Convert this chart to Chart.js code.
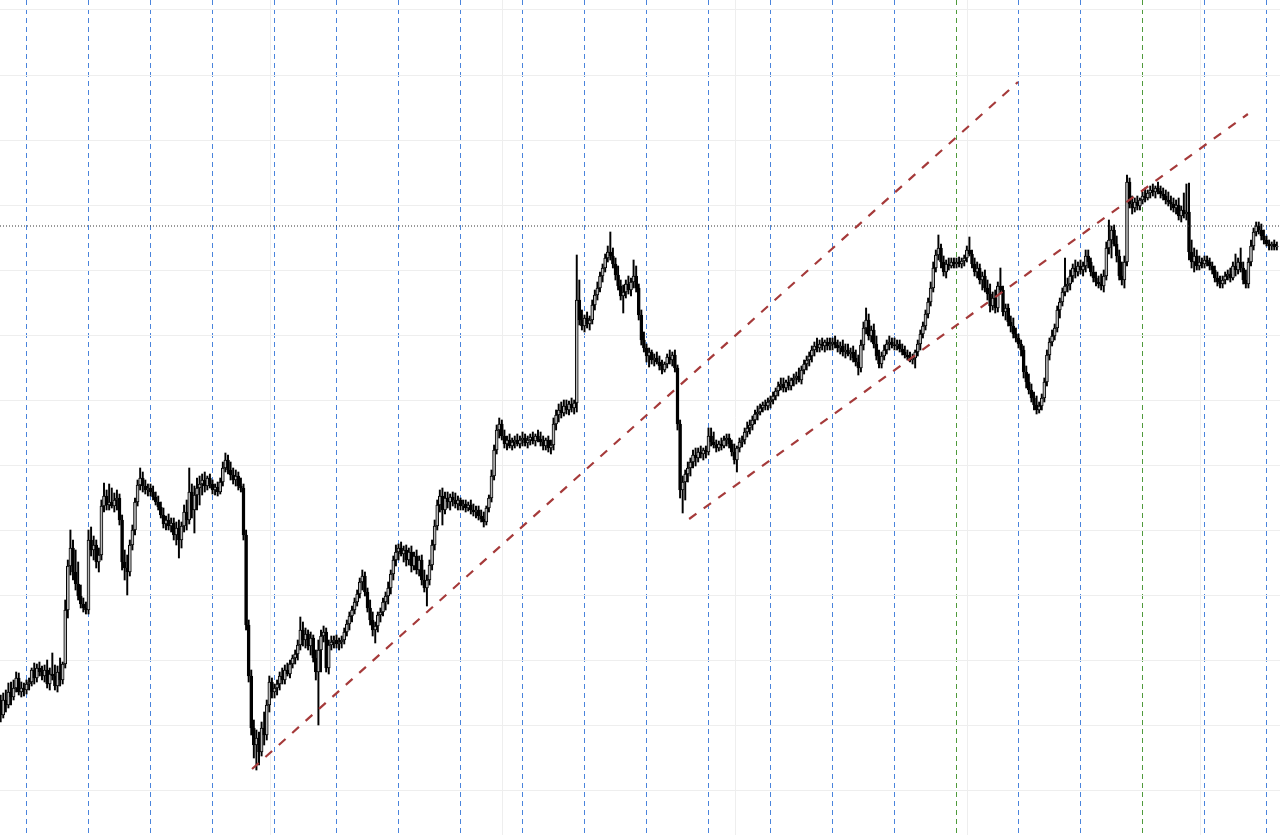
<!DOCTYPE html>
<html>
<head>
<meta charset="utf-8">
<script src="https://cdn.jsdelivr.net/npm/chart.js@4/dist/chart.umd.min.js"></script>
<style>
html, body { margin: 0; padding: 0; background: #ffffff; }
canvas { display: block; }
</style>
</head>
<body>
<canvas id="priceCanvas" width="1280" height="835"></canvas>
<script>
/* OHLC values per bar, one session (24 bars) per line */
var opens = [
    300,285,300,295,308,303,312,322,308,312,
    310,316,318,330,322,332,328,324,330,316,326,324,314,328,320,336,390,434,452,428,416,404,396,392,
    390,460,450,455,438,445,494,504,495,498,494,500,502,480,438,432,428,455,470,498,515,522,514,510,
    512,508,503,498,493,485,476,480,474,477,465,472,460,474,488,480,508,490,505,512,516,520,514,522,
    516,510,513,508,518,532,540,530,525,520,524,514,512,465,375,324,272,255,262,248,272,265,295,318,
    308,312,316,324,320,330,326,336,342,346,355,370,360,366,354,362,342,328,350,364,368,332,355,358,
    360,356,358,360,368,376,384,390,398,406,418,424,408,392,380,370,374,385,388,398,404,412,426,440,
    448,452,446,450,440,448,434,444,430,440,420,412,420,435,455,474,495,504,490,502,498,503,500,496,
    500,494,496,492,495,490,488,490,484,481,478,492,502,524,550,570,576,564,556,560,554,558,560,556,
    560,562,557,560,563,559,564,561,558,554,560,552,555,576,585,590,587,594,590,596,592,597,700,680,
    674,682,676,680,695,705,712,724,732,742,748,744,736,725,714,704,708,716,710,718,724,712,685,660,
    652,644,648,640,642,638,634,630,636,643,640,645,632,576,510,518,526,532,538,545,542,548,546,550,
    548,564,558,555,552,556,554,560,562,556,548,540,552,558,560,568,572,575,580,586,588,592,595,594,
    598,600,604,609,614,616,612,618,614,620,622,624,620,630,636,640,644,650,654,652,656,654,658,654,
    656,658,655,652,654,648,650,646,648,642,638,632,655,672,680,664,670,656,644,636,644,650,656,658,
    655,654,656,651,648,645,643,640,642,648,656,666,674,686,698,712,732,745,752,738,728,736,734,738,
    736,738,736,739,742,750,746,736,728,732,720,724,712,706,694,702,692,714,710,688,692,678,674,666,
    662,656,650,628,618,610,602,595,590,594,602,618,645,658,664,672,690,698,708,714,716,724,732,728,
    734,730,734,744,738,728,722,718,716,714,724,752,760,770,756,744,724,720,738,818,796,792,798,794,
    800,804,802,807,810,808,812,809,806,804,800,798,796,792,795,784,790,786,788,748,738,744,734,738,
    736,740,738,734,730,722,718,716,720,724,726,722,734,730,738,732,720,716,738,754,768,774,770,764,
    760,756,754,756,753
];
var highs = [
    305,307,310,317,318,320,328,327,318,317,
    320,322,332,337,336,338,334,335,340,332,347,335,334,342,338,400,440,470,460,450,438,415,402,398,
    470,473,464,460,452,500,517,510,516,512,507,510,506,485,450,445,460,475,502,520,532,528,520,516,
    516,514,508,504,498,492,484,486,482,482,478,480,478,495,500,532,516,514,522,524,526,528,524,526,
    520,516,518,522,538,547,545,538,532,530,528,522,516,470,380,330,280,270,268,278,288,300,324,322,
    316,320,328,332,335,337,340,345,350,360,383,378,372,370,368,365,350,360,370,374,372,360,364,364,
    365,362,364,372,380,388,394,402,410,422,430,428,412,400,388,378,388,392,402,408,418,430,444,455,
    456,458,454,455,452,454,448,450,444,445,430,425,440,460,480,500,510,512,508,508,506,508,507,504,
    502,500,500,498,500,496,494,494,490,488,494,505,530,555,575,582,580,570,564,566,562,564,566,564,
    568,566,564,566,568,566,570,568,564,562,564,560,582,590,596,598,600,600,599,602,600,745,720,690,
    685,688,684,700,710,718,728,736,746,754,768,752,742,734,720,715,720,724,722,740,734,716,690,668,
    656,652,650,646,648,644,640,638,646,650,648,650,635,580,524,530,538,542,550,552,552,554,552,554,
    572,572,568,560,559,562,564,566,566,560,556,554,562,564,572,578,580,584,590,594,596,598,600,602,
    604,608,612,618,622,622,620,624,622,626,628,632,634,640,644,648,654,658,662,660,662,660,662,662,
    662,664,660,658,660,656,656,652,654,650,645,660,678,692,686,674,676,664,650,648,655,660,664,662,
    662,660,660,656,654,650,648,646,650,660,670,678,690,702,718,738,750,765,756,744,740,742,742,742,
    742,743,742,745,754,763,750,742,738,736,728,730,720,716,708,710,718,732,714,696,696,684,682,672,
    666,660,654,634,626,616,608,604,598,606,622,650,662,670,676,694,702,712,742,722,730,736,740,738,
    740,738,750,750,742,734,728,724,726,730,758,780,774,775,764,750,738,744,825,822,804,802,804,802,
    808,812,810,814,816,814,818,814,812,810,808,804,802,800,802,794,807,816,817,760,752,750,744,742,
    744,744,742,738,734,728,724,724,728,730,732,738,746,742,752,738,730,742,760,772,778,778,776,770,
    764,760,758,760,758
];
var lows = [
    278,282,288,292,295,300,308,305,303,304,
    306,310,314,316,318,324,320,318,312,310,320,310,308,314,316,332,382,425,420,410,400,392,388,386,
    386,444,440,432,428,440,488,490,490,492,488,490,475,430,420,405,424,450,465,494,510,508,506,504,
    504,500,495,490,482,472,470,470,468,460,455,442,452,468,470,476,482,467,490,495,505,508,510,512,
    506,505,504,506,514,528,526,520,516,514,510,508,460,370,318,265,242,230,235,244,255,260,288,302,
    302,305,310,316,316,324,322,332,336,340,350,354,352,350,345,338,320,275,328,358,328,326,350,352,
    352,350,352,356,364,370,378,386,394,402,410,404,388,375,364,357,368,378,384,390,396,406,420,434,
    440,444,438,434,435,428,430,426,424,415,408,394,415,430,450,470,488,475,486,492,490,494,492,490,
    490,490,488,489,486,484,482,480,478,473,475,488,498,520,546,562,560,552,550,552,550,552,554,552,
    554,554,552,555,556,554,558,554,550,550,548,546,550,570,578,582,584,586,585,588,586,588,675,670,
    668,672,670,676,690,700,708,718,728,738,740,732,720,710,700,687,702,706,704,712,708,680,655,648,
    638,633,636,634,636,630,626,628,632,636,634,628,570,502,487,500,518,524,532,534,538,542,540,542,
    545,554,552,548,549,550,552,554,552,544,536,528,548,553,556,563,566,570,576,580,585,588,590,590,
    592,596,600,604,610,608,608,610,610,614,616,618,616,626,630,634,638,644,648,648,650,648,650,650,
    650,652,648,646,644,642,644,640,638,634,625,628,650,666,660,658,652,640,632,632,640,646,650,652,
    650,650,648,645,642,640,638,636,632,644,650,662,670,682,694,708,728,740,732,724,722,730,732,732,
    732,733,732,734,738,744,732,724,722,716,710,708,700,688,690,687,688,706,684,680,674,668,662,658,
    652,644,622,612,606,598,590,586,587,590,598,614,640,654,660,668,682,694,704,708,710,718,722,724,
    726,724,728,732,724,718,714,712,710,708,720,746,742,754,738,720,715,712,734,792,786,788,790,790,
    796,798,800,802,804,802,806,802,800,796,794,790,788,786,780,778,782,780,740,732,728,730,730,732,
    732,734,730,726,718,714,712,712,716,720,718,720,724,726,728,716,712,712,734,750,764,766,760,756,
    754,750,750,750,750
];
var closes = [
    285,300,295,308,303,312,322,308,312,310,
    316,318,330,322,332,328,324,330,316,326,324,314,328,320,336,390,434,452,428,416,404,396,392,390,
    460,450,455,438,445,494,504,495,498,494,500,502,480,438,432,428,455,470,498,515,522,514,510,512,
    508,503,498,493,485,476,480,474,477,465,472,460,474,488,480,508,490,505,512,516,520,514,522,516,
    510,513,508,518,532,540,530,525,520,524,514,512,465,375,324,272,255,262,248,272,265,295,318,308,
    312,316,324,320,330,326,336,342,346,355,370,360,366,354,362,342,328,350,364,368,332,355,358,360,
    356,358,360,368,376,384,390,398,406,418,424,408,392,380,370,374,385,388,398,404,412,426,440,448,
    452,446,450,440,448,434,444,430,440,420,412,420,435,455,474,495,504,490,502,498,503,500,496,500,
    494,496,492,495,490,488,490,484,481,478,492,502,524,550,570,576,564,556,560,554,558,560,556,560,
    562,557,560,563,559,564,561,558,554,560,552,555,576,585,590,587,594,590,596,592,597,700,680,674,
    682,676,680,695,705,712,724,732,742,748,744,736,725,714,704,708,716,710,718,724,712,685,660,652,
    644,648,640,642,638,634,630,636,643,640,645,632,576,510,518,526,532,538,545,542,548,546,550,548,
    564,558,555,552,556,554,560,562,556,548,540,552,558,560,568,572,575,580,586,588,592,595,594,598,
    600,604,609,614,616,612,618,614,620,622,624,620,630,636,640,644,650,654,652,656,654,658,654,656,
    658,655,652,654,648,650,646,648,642,638,632,655,672,680,664,670,656,644,636,644,650,656,658,655,
    654,656,651,648,645,643,640,642,648,656,666,674,686,698,712,732,745,752,738,728,736,734,738,736,
    738,736,739,742,750,746,736,728,732,720,724,712,706,694,702,692,714,710,688,692,678,674,666,662,
    656,650,628,618,610,602,595,590,594,602,618,645,658,664,672,690,698,708,714,716,724,732,728,734,
    730,734,744,738,728,722,718,716,714,724,752,760,770,756,744,724,720,738,818,796,792,798,794,800,
    804,802,807,810,808,812,809,806,804,800,798,796,792,795,784,790,786,788,748,738,744,734,738,736,
    740,738,734,730,722,718,716,720,724,726,722,734,730,738,732,720,716,738,754,768,774,770,764,760,
    756,754,756,753,754
];

/* trend lines as [bar, price] end points, and the horizontal price level */
var trendLineA = [[97.3, 231], [393.8, 918]];
var trendLineB = [[266.5, 481], [482.8, 886]];
var priceLevel = 774;

/* bars where a session starts (period separators), the two green ones, grid */
var separatorBars = [10, 34, 58, 82, 106, 130, 154, 178, 202, 226, 250, 274, 298, 322, 346, 370, 394, 418, 442, 466, 490];
var greenSeparators = [370, 442];
var timeGridBars = [116.65, 236.65, 356.65, 476.65];
var priceGrid = [210, 275, 340, 405, 470, 535, 600, 665, 730, 795, 860, 925, 990];

var X_MIN = -0.258;
var X_MAX = 495.226;

function toPoints(pairs) {
    return pairs.map(function (p) { return {x: p[0], y: p[1]}; });
}

/* Build candle wicks and bodies as floating bars */
function buildCandles() {
    var wicks = [];
    var bodies = [];
    var fills = [];
    for (var i = 0; i < closes.length; i++) {
        wicks.push({x: i, y: [lows[i], highs[i]]});
        bodies.push({x: i, y: [opens[i], closes[i]]});
        fills.push(closes[i] >= opens[i] ? '#b8b8b8' : '#000000'); // up bars look grey once shrunk
    }
    return {wicks: wicks, bodies: bodies, fills: fills};
}

function ticksFrom(values) {
    return function (axis) {
        axis.ticks = values.map(function (v) { return {value: v}; });
    };
}

var candles = buildCandles();
if (opens.length !== closes.length || highs.length !== closes.length || lows.length !== closes.length)
    console.error('length mismatch', opens.length, highs.length, lows.length, closes.length);

var ctx = document.getElementById('priceCanvas').getContext('2d');
var chart = new Chart(ctx, {
    type: 'bar',
    data: {
        datasets: [{
            type: 'line',
            data: toPoints(trendLineA),
            borderColor: '#a53a3a',
            borderWidth: 2.2,
            borderDash: [9, 9],
            pointRadius: 0,
            order: 0
        }, {
            type: 'line',
            data: toPoints(trendLineB),
            borderColor: '#a53a3a',
            borderWidth: 2.2,
            borderDash: [9, 9],
            pointRadius: 0,
            order: 0
        }, {
            type: 'line',
            data: [{x: X_MIN, y: priceLevel}, {x: X_MAX, y: priceLevel}],
            borderColor: '#333333',
            borderWidth: 1,
            borderDash: [1, 2],
            pointRadius: 0,
            order: 0
        }, {
            data: candles.bodies,
            backgroundColor: candles.fills,
            borderColor: '#000000',
            borderWidth: 1,
            borderSkipped: false,
            barThickness: 3,
            minBarLength: 1,
            grouped: false,
            order: 1
        }, {
            data: candles.wicks,
            backgroundColor: '#000000',
            barThickness: 1.3,
            grouped: false,
            order: 2
        }]
    },
    options: {
        responsive: false,
        animation: false,
        events: [],
        devicePixelRatio: 1,
        layout: { padding: 0 },
        plugins: {
            legend: { display: false },
            tooltip: { enabled: false }
        },
        scales: {
            x: {
                type: 'linear',
                min: X_MIN,
                max: X_MAX,
                offset: false,
                afterBuildTicks: ticksFrom(separatorBars),
                ticks: { display: false },
                border: { display: false, dash: [5, 4] },
                grid: {
                    offset: false,
                    drawTicks: false,
                    color: function (c) {
                        if (c.tick && greenSeparators.indexOf(c.tick.value) !== -1)
                            return '#4f9a3c';
                        return '#4a84dc';
                    }
                }
            },
            xGrid: {
                type: 'linear',
                display: true,
                position: 'bottom',
                min: X_MIN,
                max: X_MAX,
                afterBuildTicks: ticksFrom(timeGridBars),
                ticks: { display: false },
                border: { display: false },
                grid: { drawTicks: false, color: '#eeeeee' }
            },
            y: {
                type: 'linear',
                min: 165,
                max: 1000,
                afterBuildTicks: ticksFrom(priceGrid),
                ticks: { display: false },
                border: { display: false },
                grid: { drawTicks: false, color: '#eeeeee' }
            }
        }
    }
});
</script>
</body>
</html>
